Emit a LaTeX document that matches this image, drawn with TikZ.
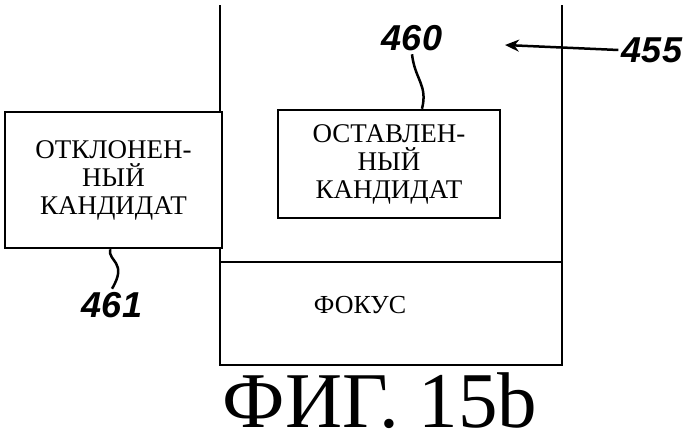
\documentclass[tikz,border=0pt]{standalone}
\usepackage{fontspec}
\setmainfont{Liberation Serif}
\newfontfamily\numfont{Liberation Sans}
\usetikzlibrary{positioning,arrows.meta}
\tikzset{
  candbox/.style={draw, line width=2.5pt, align=center, inner sep=0pt, font=\fontsize{27}{28}\selectfont},
  reflabel/.style={font=\numfont\bfseries\itshape\fontsize{36}{36}\selectfont},
  leader/.style={line width=2.5pt}
}
\begin{document}
\begin{tikzpicture}[x=1pt,y=-1pt]
    \useasboundingbox (0,0) rectangle (699,447);

    % Frame of the display
    \draw[line width=2.8pt] (220,5) -- (220,365) -- (562,365) -- (562,5);
    \draw[line width=2.8pt] (220,262) -- (562,262);
    \node[font=\fontsize{26}{26}\selectfont] (focus) at (360,305) {ФОКУС};

    % Candidate boxes
    \node[candbox, minimum width=217pt, minimum height=136pt, fill=white] (rejected) at (113.5,180) {ОТКЛОНЕН-\\НЫЙ\\КАНДИДАТ};
    \node[candbox, minimum width=222pt, minimum height=108pt] (kept) at (389,164) {ОСТАВЛЕН-\\НЫЙ\\КАНДИДАТ};

    % Reference numbers
    \node[reflabel] (n460) at (412,38) {460};
    \node[reflabel] (n461) at (112,305) {461};
    \node[reflabel] (n455) at (652,50) {455};
    \coordinate (tip455) at (505,45);

    \draw[leader] (n460.south) .. controls (415,80) and (428,85) .. (kept.north -| 422,0);
    \draw[leader] (rejected.south -| 110,0) .. controls (108,262) and (128,262) .. (n461.north);
    \draw[leader, -{Stealth[length=14pt,width=12pt]}] (n455.west) -- (tip455);

    % Caption
    \node[font=\fontsize{79}{79}\selectfont] (caption) at (380,401) {ФИГ. 15b};
\end{tikzpicture}
\end{document}
